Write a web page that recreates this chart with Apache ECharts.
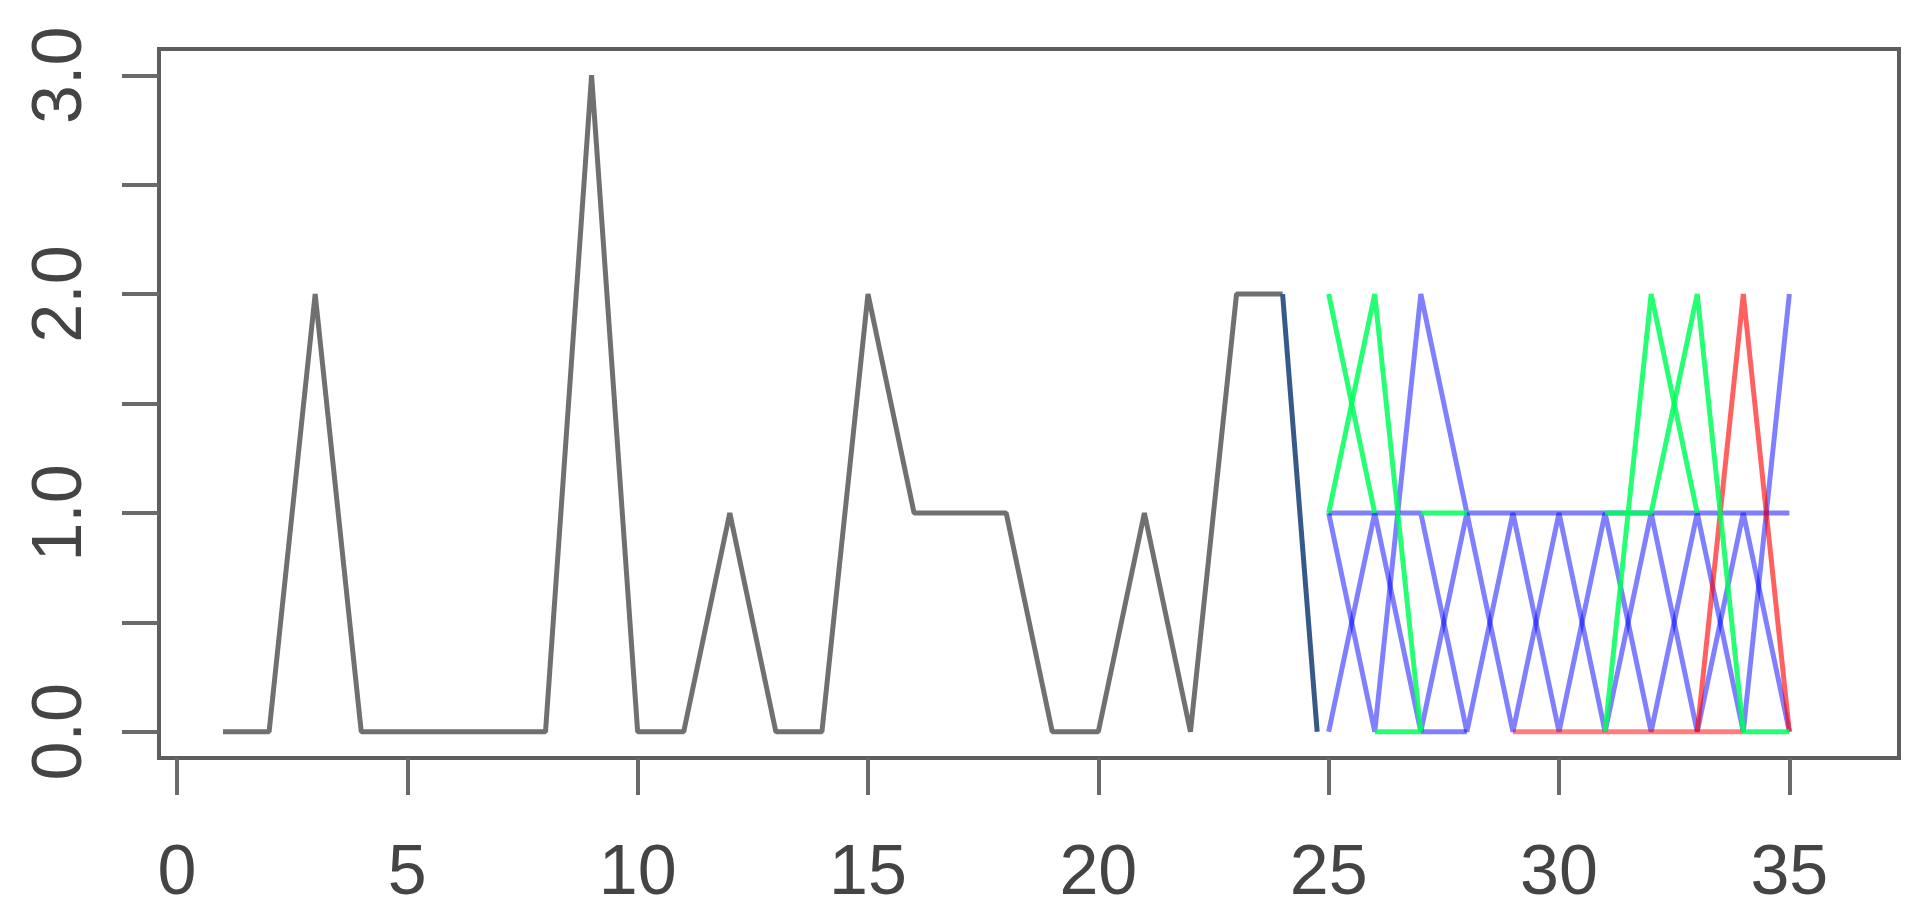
<!DOCTYPE html>
<html>
<head>
<meta charset="utf-8">
<script src="https://cdn.jsdelivr.net/npm/echarts@6/dist/echarts.min.js"></script>
<style>
  html, body { margin: 0; padding: 0; background: #fff; }
  #chart { width: 1928px; height: 924px; }
</style>
</head>
<body>
<div id="chart"></div>
<script>
// grey run, x = 1..24
const grayX = [1, 2, 3, 4, 5, 6, 7, 8, 9, 10, 11, 12, 13, 14, 15, 16, 17, 18, 19, 20, 21, 22, 23, 24]
const grayY = [0, 0, 2, 0, 0, 0, 0, 0, 3, 0, 0, 1, 0, 0, 2, 1, 1, 1, 0, 0, 1, 0, 2, 2]

// dark drop after the grey run
const dropX = [24, 24.75]
const dropY = [2, 0]

// coloured runs, x = 25..35 (null = gap)
const colX = [25, 26, 27, 28, 29, 30, 31, 32, 33, 34, 35]
const blueA = [1, 1, 1, 0, 1, 0, 1, 0, 1, 0, 2]
const blueB = [0, 1, 0, 1, 0, 1, 0, 1, 0, 1, 0]
const blueC = [1, 0, 2, 1, 1, 1, 1, 1, 1, 1, 1]
const blueD = [null, null, 0, 0, null, null, null, null, null, null, null]
const redA = [null, null, null, null, 0, 0, 0, 0, 0, 0, null]
const redB = [null, null, null, null, null, null, null, null, 0, 2, 0]
const greenA = [1, 2, 0, null, null, null, 0, 2, 1, null, null]
const greenB = [2, 1, null, null, null, null, 1, 1, 2, 0, 0]
const greenC = [null, 0, 0, null, null, null, null, null, null, null, null]
const greenD = [null, null, 1, 1, null, null, null, null, null, null, null]

const xTicks = [0, 5, 10, 15, 20, 25, 30, 35]
const yTicks = [0, 0.5, 1, 1.5, 2, 2.5, 3]
const yLabels = [0, 1, 2, 3]

const labelFont = '"Liberation Sans", Arial, sans-serif'

function pairs(xs, ys) {
  return xs.map((x, i) => [x, ys[i] == null ? '-' : ys[i]])
}

function line(xs, ys, color, width) {
  return {
    type: 'line',
    data: pairs(xs, ys),
    showSymbol: false,
    connectNulls: false,
    silent: true,
    lineStyle: { color: color, width: width },
    itemStyle: { color: color }
  }
}

const BLUE = 'rgba(0, 0, 255, 0.5)'
const RED = 'rgba(255, 0, 0, 0.5)'
const GREEN = 'rgba(0, 255, 90, 0.85)'

const chart = echarts.init(document.getElementById('chart'))
chart.setOption({
  animation: false,
  backgroundColor: '#fff',
  grid: {
    left: 159, top: 49, width: 1740, height: 709,
    show: true, borderColor: '#5e5e5e', borderWidth: 4, backgroundColor: 'transparent'
  },
  xAxis: {
    type: 'value',
    min: -0.39,
    max: 37.38,
    axisLine: { show: false, onZero: false },
    splitLine: { show: false },
    axisTick: {
      show: true, length: 37, customValues: xTicks,
      lineStyle: { color: '#6a6a6a', width: 4 }
    },
    axisLabel: {
      customValues: xTicks, margin: 82,
      fontFamily: labelFont, fontSize: 70, color: '#444'
    }
  },
  yAxis: {
    type: 'value',
    min: -0.12,
    max: 3.12,
    axisLine: { show: false, onZero: false },
    splitLine: { show: false },
    axisTick: {
      show: true, length: 37, customValues: yTicks,
      lineStyle: { color: '#6a6a6a', width: 4 }
    },
    axisLabel: {
      customValues: yLabels, margin: 62, rotate: 90,
      fontFamily: labelFont, fontSize: 70, color: '#444',
      formatter: v => v.toFixed(1)
    }
  },
  series: [
    line(grayX, grayY, '#707070', 5),
    line(dropX, dropY, '#37598a', 5),
    line(colX, blueA, BLUE, 5),
    line(colX, blueB, BLUE, 5),
    line(colX, blueC, BLUE, 5),
    line(colX, blueD, BLUE, 5),
    line(colX, redA, RED, 5),
    line(colX, redB, 'rgba(255, 0, 0, 0.62)', 5),
    line(colX, greenA, GREEN, 5),
    line(colX, greenB, GREEN, 5),
    line(colX, greenC, GREEN, 5),
    line(colX, greenD, GREEN, 5)
  ]
})

window.addEventListener('resize', () => chart.resize())
</script>
</body>
</html>
